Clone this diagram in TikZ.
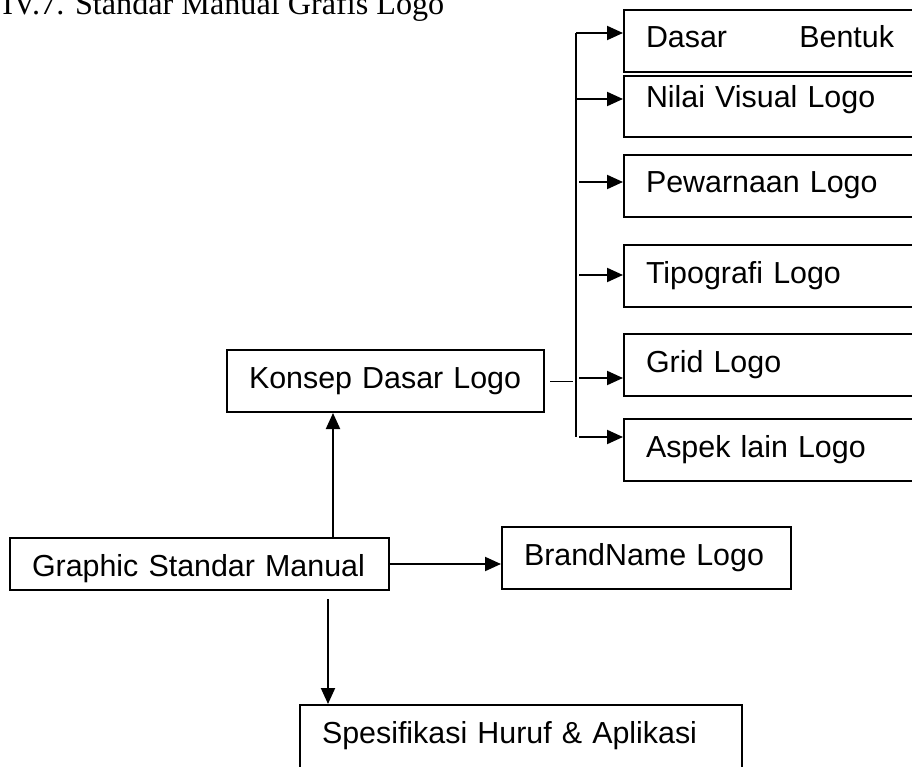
\documentclass[tikz,border=0pt]{standalone}
\usepackage{fontspec}
\setmainfont{Liberation Sans}
\newfontfamily\serifjudul{Liberation Serif}
\usetikzlibrary{arrows.meta}
\tikzset{
  kotak/.style={draw, line width=1.5pt, anchor=north west, inner xsep=16.5pt, inner ysep=0pt,
    text height=28.5pt, text depth=18pt, align=left, font=\fontsize{22.8}{27}\selectfont},
  panah/.style={line width=1.5pt, -{Triangle[length=12pt,width=10.5pt]}},
}
\begin{document}
\begin{tikzpicture}[x=0.75pt, y=-0.75pt]
    \useasboundingbox (0,0) rectangle (912,766);
    \clip (0,0) rectangle (912,766);
    \node[anchor=base west, inner sep=0pt, font=\serifjudul\fontsize{24.15}{28}\selectfont] (judul) at (2,15) {IV.7. Standar Manual Grafis Logo};
    \node[kotak, text width=186pt] (dasar) at (623,9) {Dasar\hfill Bentuk};
    \node[kotak, text width=186pt, text height=24pt, text depth=21.75pt] (nilai) at (623,75) {Nilai Visual Logo};
    \node[kotak, text width=186pt] (warna) at (623,154) {Pewarnaan Logo};
    \node[kotak, text width=186pt] (tipo) at (623,244) {Tipografi Logo};
    \node[kotak, text width=186pt] (grid) at (623,333) {Grid Logo};
    \node[kotak, text width=186pt] (aspek) at (623,418) {Aspek lain Logo};
    \node[kotak, text width=204.75pt] (konsep) at (226,349) {Konsep Dasar Logo};
    \node[kotak, text width=251.25pt, text depth=10.5pt] (graphic) at (9,537) {Graphic Standar Manual};
    \node[kotak, text width=183.75pt] (brand) at (501,526) {BrandName Logo};
    \node[kotak, text width=298.5pt, text depth=24pt] (spesifikasi) at (299,704) {Spesifikasi Huruf \& Aplikasi};
    \coordinate (bustop) at (576,33);
    \coordinate (busbawah) at (576,437);
    \draw[line width=1.5pt] (bustop) -- (busbawah);
    \foreach \n/\y/\s in {dasar/33/0, nilai/99/0, warna/182/3, tipo/275/3, grid/378/3, aspek/437/3} {
        \coordinate (m\n) at (576+\s,\y);
        \draw[panah] (m\n) -- (m\n -| \n.west);
    }
    \coordinate (ujung) at (573,378);
    \draw[line width=0.75pt] ([xshift=3.75pt]konsep.east) -- (konsep.east -| ujung);
    \coordinate (naik) at (333,0);
    \draw[panah] (graphic.north -| naik) -- (konsep.south -| naik);
    \draw[panah] (graphic.east) -- (graphic.east -| brand.west);
    \coordinate (turun) at (328,599);
    \draw[panah] (turun) -- (turun |- spesifikasi.north);
\end{tikzpicture}
\end{document}
